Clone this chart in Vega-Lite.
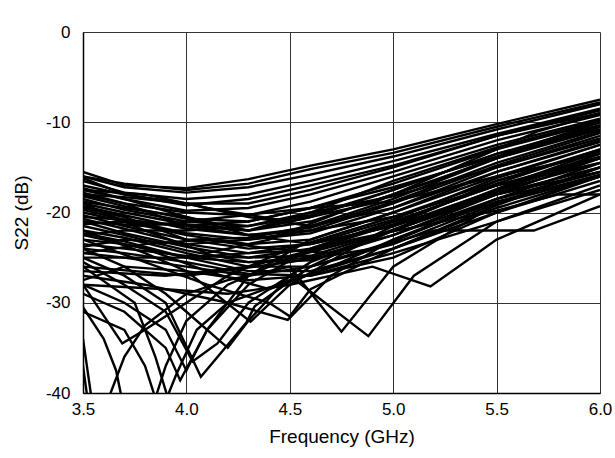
{
"$schema":"https://vega.github.io/schema/vega-lite/v6.json",
"width":517,"height":361,
"autosize":{"type":"none"},
"padding":{"left":83,"top":32,"right":15,"bottom":65},
"background":"white",
"config":{"view":{"stroke":null},"font":"Liberation Sans"},
"data":{"values":[
{"c":1,"f":3.5,"v":-15.5},{"c":1,"f":3.7,"v":-17},{"c":1,"f":4.0,"v":-17.3},{"c":1,"f":4.3,"v":-16.3},{"c":1,"f":4.6,"v":-14.8},{"c":1,"f":5.0,"v":-13},{"c":1,"f":5.5,"v":-10.2},{"c":1,"f":6.0,"v":-7.5},
{"c":2,"f":3.5,"v":-16},{"c":2,"f":3.7,"v":-17.2},{"c":2,"f":4.0,"v":-17.8},{"c":2,"f":4.3,"v":-17.2},{"c":2,"f":4.6,"v":-15.8},{"c":2,"f":5.0,"v":-13.8},{"c":2,"f":5.5,"v":-10.8},{"c":2,"f":6.0,"v":-8},
{"c":3,"f":3.5,"v":-16.5},{"c":3,"f":3.7,"v":-17.8},{"c":3,"f":4.0,"v":-18.5},{"c":3,"f":4.3,"v":-18},{"c":3,"f":4.6,"v":-16.5},{"c":3,"f":5.0,"v":-14.3},{"c":3,"f":5.5,"v":-11.3},{"c":3,"f":6.0,"v":-8.5},
{"c":4,"f":3.5,"v":-17},{"c":4,"f":3.7,"v":-18},{"c":4,"f":4.0,"v":-19},{"c":4,"f":4.3,"v":-19},{"c":4,"f":4.6,"v":-17.5},{"c":4,"f":5.0,"v":-15},{"c":4,"f":5.5,"v":-11.5},{"c":4,"f":6.0,"v":-9},
{"c":5,"f":3.5,"v":-17.3},{"c":5,"f":3.7,"v":-18.5},{"c":5,"f":4.0,"v":-19.8},{"c":5,"f":4.3,"v":-19.5},{"c":5,"f":4.6,"v":-18},{"c":5,"f":5.0,"v":-15.5},{"c":5,"f":5.5,"v":-12},{"c":5,"f":6.0,"v":-9.2},
{"c":6,"f":3.5,"v":-17.8},{"c":6,"f":3.7,"v":-19},{"c":6,"f":4.0,"v":-20},{"c":6,"f":4.3,"v":-20.3},{"c":6,"f":4.6,"v":-18.8},{"c":6,"f":5.0,"v":-16},{"c":6,"f":5.5,"v":-12.5},{"c":6,"f":6.0,"v":-9.6},
{"c":7,"f":3.5,"v":-18.2},{"c":7,"f":3.7,"v":-19.3},{"c":7,"f":4.0,"v":-20.7},{"c":7,"f":4.3,"v":-21},{"c":7,"f":4.6,"v":-19.5},{"c":7,"f":5.0,"v":-16.8},{"c":7,"f":5.5,"v":-13},{"c":7,"f":6.0,"v":-10},
{"c":8,"f":3.5,"v":-18.5},{"c":8,"f":3.7,"v":-19.7},{"c":8,"f":4.0,"v":-21},{"c":8,"f":4.3,"v":-21.5},{"c":8,"f":4.6,"v":-20.3},{"c":8,"f":5.0,"v":-17.5},{"c":8,"f":5.5,"v":-13.5},{"c":8,"f":6.0,"v":-10.3},
{"c":9,"f":3.5,"v":-19},{"c":9,"f":3.7,"v":-20},{"c":9,"f":4.0,"v":-21.3},{"c":9,"f":4.3,"v":-22},{"c":9,"f":4.6,"v":-21},{"c":9,"f":5.0,"v":-18},{"c":9,"f":5.5,"v":-14},{"c":9,"f":6.0,"v":-10.8},
{"c":10,"f":3.5,"v":-19.3},{"c":10,"f":3.7,"v":-20.3},{"c":10,"f":4.0,"v":-21.8},{"c":10,"f":4.3,"v":-22.5},{"c":10,"f":4.6,"v":-21.7},{"c":10,"f":5.0,"v":-18.8},{"c":10,"f":5.5,"v":-14.5},{"c":10,"f":6.0,"v":-11},
{"c":11,"f":3.5,"v":-19.7},{"c":11,"f":3.7,"v":-20.8},{"c":11,"f":4.0,"v":-22.3},{"c":11,"f":4.3,"v":-23},{"c":11,"f":4.6,"v":-22.3},{"c":11,"f":5.0,"v":-19.5},{"c":11,"f":5.5,"v":-15},{"c":11,"f":6.0,"v":-11.5},
{"c":12,"f":3.5,"v":-20},{"c":12,"f":3.7,"v":-21},{"c":12,"f":4.0,"v":-22.5},{"c":12,"f":4.3,"v":-23.5},{"c":12,"f":4.6,"v":-23},{"c":12,"f":5.0,"v":-20},{"c":12,"f":5.5,"v":-15.5},{"c":12,"f":6.0,"v":-12},
{"c":13,"f":3.5,"v":-20.3},{"c":13,"f":3.7,"v":-21.5},{"c":13,"f":4.0,"v":-23},{"c":13,"f":4.3,"v":-24},{"c":13,"f":4.6,"v":-23.5},{"c":13,"f":5.0,"v":-20.8},{"c":13,"f":5.5,"v":-16.2},{"c":13,"f":6.0,"v":-12.5},
{"c":14,"f":3.5,"v":-20.7},{"c":14,"f":3.7,"v":-21.8},{"c":14,"f":4.0,"v":-23.5},{"c":14,"f":4.3,"v":-24.5},{"c":14,"f":4.6,"v":-24.2},{"c":14,"f":5.0,"v":-21.3},{"c":14,"f":5.5,"v":-16.8},{"c":14,"f":6.0,"v":-13},
{"c":15,"f":3.5,"v":-21},{"c":15,"f":3.7,"v":-22.3},{"c":15,"f":4.0,"v":-23.8},{"c":15,"f":4.3,"v":-25},{"c":15,"f":4.6,"v":-24.8},{"c":15,"f":5.0,"v":-22},{"c":15,"f":5.5,"v":-17.5},{"c":15,"f":6.0,"v":-13.5},
{"c":16,"f":3.5,"v":-21.5},{"c":16,"f":3.7,"v":-22.5},{"c":16,"f":4.0,"v":-24.2},{"c":16,"f":4.3,"v":-25.5},{"c":16,"f":4.6,"v":-25.3},{"c":16,"f":5.0,"v":-22.5},{"c":16,"f":5.5,"v":-18},{"c":16,"f":6.0,"v":-14},
{"c":17,"f":3.5,"v":-22},{"c":17,"f":3.7,"v":-22.8},{"c":17,"f":4.0,"v":-24.5},{"c":17,"f":4.3,"v":-26},{"c":17,"f":4.6,"v":-26},{"c":17,"f":5.0,"v":-23.2},{"c":17,"f":5.5,"v":-18.5},{"c":17,"f":6.0,"v":-14.5},
{"c":18,"f":3.5,"v":-22.3},{"c":18,"f":3.7,"v":-23.2},{"c":18,"f":4.0,"v":-25},{"c":18,"f":4.3,"v":-26.5},{"c":18,"f":4.6,"v":-26.5},{"c":18,"f":5.0,"v":-24},{"c":18,"f":5.5,"v":-19.2},{"c":18,"f":6.0,"v":-15},
{"c":19,"f":3.5,"v":-23},{"c":19,"f":3.7,"v":-23.5},{"c":19,"f":4.0,"v":-25},{"c":19,"f":4.3,"v":-25.5},{"c":19,"f":4.6,"v":-25},{"c":19,"f":5.0,"v":-22.5},{"c":19,"f":5.5,"v":-18.5},{"c":19,"f":6.0,"v":-15.5},
{"c":20,"f":3.5,"v":-23.5},{"c":20,"f":3.7,"v":-24},{"c":20,"f":4.0,"v":-24.8},{"c":20,"f":4.3,"v":-25},{"c":20,"f":4.6,"v":-24},{"c":20,"f":5.0,"v":-21},{"c":20,"f":5.5,"v":-17},{"c":20,"f":6.0,"v":-13.8},
{"c":21,"f":3.5,"v":-24},{"c":21,"f":3.7,"v":-24.5},{"c":21,"f":4.0,"v":-25.5},{"c":21,"f":4.3,"v":-26.8},{"c":21,"f":4.6,"v":-27},{"c":21,"f":5.0,"v":-25},{"c":21,"f":5.5,"v":-20},{"c":21,"f":6.0,"v":-16},
{"c":22,"f":3.5,"v":-16.2},{"c":22,"f":3.7,"v":-18},{"c":22,"f":4.0,"v":-19.2},{"c":22,"f":4.3,"v":-18.5},{"c":22,"f":4.6,"v":-17},{"c":22,"f":5.0,"v":-14.8},{"c":22,"f":5.5,"v":-11.5},{"c":22,"f":6.0,"v":-8.7},
{"c":23,"f":3.5,"v":-18},{"c":23,"f":3.7,"v":-18.3},{"c":23,"f":4.0,"v":-19},{"c":23,"f":4.3,"v":-20.5},{"c":23,"f":4.6,"v":-21.5},{"c":23,"f":5.0,"v":-19.5},{"c":23,"f":5.5,"v":-15.5},{"c":23,"f":6.0,"v":-12.2},
{"c":24,"f":3.5,"v":-21.3},{"c":24,"f":3.7,"v":-21},{"c":24,"f":4.0,"v":-21.5},{"c":24,"f":4.3,"v":-21},{"c":24,"f":4.6,"v":-19.5},{"c":24,"f":5.0,"v":-17.2},{"c":24,"f":5.5,"v":-13.8},{"c":24,"f":6.0,"v":-10.5},
{"c":25,"f":3.5,"v":-19.5},{"c":25,"f":3.7,"v":-20.5},{"c":25,"f":4.0,"v":-23},{"c":25,"f":4.3,"v":-22.8},{"c":25,"f":4.6,"v":-21.5},{"c":25,"f":5.0,"v":-18.5},{"c":25,"f":5.5,"v":-14},{"c":25,"f":6.0,"v":-10.5},
{"c":26,"f":3.5,"v":-22.5},{"c":26,"f":3.7,"v":-22},{"c":26,"f":4.0,"v":-22},{"c":26,"f":4.3,"v":-21.5},{"c":26,"f":4.6,"v":-20},{"c":26,"f":5.0,"v":-18.2},{"c":26,"f":5.5,"v":-15},{"c":26,"f":6.0,"v":-11.8},
{"c":27,"f":3.5,"v":-18.8},{"c":27,"f":3.7,"v":-19.5},{"c":27,"f":4.0,"v":-20.5},{"c":27,"f":4.3,"v":-22.5},{"c":27,"f":4.6,"v":-23.5},{"c":27,"f":5.0,"v":-21.5},{"c":27,"f":5.5,"v":-16.5},{"c":27,"f":6.0,"v":-13},
{"c":28,"f":3.5,"v":-20.5},{"c":28,"f":3.7,"v":-20.8},{"c":28,"f":4.0,"v":-21.5},{"c":28,"f":4.3,"v":-22.5},{"c":28,"f":4.6,"v":-22},{"c":28,"f":5.0,"v":-19},{"c":28,"f":5.5,"v":-14.8},{"c":28,"f":6.0,"v":-11.2},
{"c":29,"f":3.5,"v":-17.5},{"c":29,"f":3.7,"v":-18.5},{"c":29,"f":4.0,"v":-20.5},{"c":29,"f":4.3,"v":-22},{"c":29,"f":4.6,"v":-20.5},{"c":29,"f":5.0,"v":-17.5},{"c":29,"f":5.5,"v":-13.5},{"c":29,"f":6.0,"v":-10.8},
{"c":30,"f":3.5,"v":-23.8},{"c":30,"f":3.7,"v":-23},{"c":30,"f":4.0,"v":-23.5},{"c":30,"f":4.3,"v":-23},{"c":30,"f":4.6,"v":-22},{"c":30,"f":5.0,"v":-20.5},{"c":30,"f":5.5,"v":-16.5},{"c":30,"f":6.0,"v":-13.2},
{"c":31,"f":3.5,"v":-24.5},{"c":31,"f":3.7,"v":-25},{"c":31,"f":4.0,"v":-26},{"c":31,"f":4.3,"v":-27},{"c":31,"f":4.6,"v":-26},{"c":31,"f":5.0,"v":-23.5},{"c":31,"f":5.5,"v":-19},{"c":31,"f":6.0,"v":-16},
{"c":32,"f":3.5,"v":-25},{"c":32,"f":3.7,"v":-25},{"c":32,"f":4.0,"v":-25},{"c":32,"f":4.3,"v":-24.5},{"c":32,"f":4.6,"v":-23.5},{"c":32,"f":5.0,"v":-21.5},{"c":32,"f":5.5,"v":-18},{"c":32,"f":6.0,"v":-15},
{"c":33,"f":3.5,"v":-16},{"c":33,"f":3.7,"v":-16.8},{"c":33,"f":4.0,"v":-17.5},{"c":33,"f":4.3,"v":-16.8},{"c":33,"f":4.6,"v":-15.2},{"c":33,"f":5.0,"v":-13.4},{"c":33,"f":5.5,"v":-10.5},{"c":33,"f":6.0,"v":-7.8},
{"c":34,"f":3.5,"v":-18},{"c":34,"f":3.7,"v":-19},{"c":34,"f":4.0,"v":-21.5},{"c":34,"f":4.3,"v":-22},{"c":34,"f":4.6,"v":-20},{"c":34,"f":5.0,"v":-16.5},{"c":34,"f":5.5,"v":-12.8},{"c":34,"f":6.0,"v":-9.8},
{"c":41,"f":3.5,"v":-28},{"c":41,"f":3.7,"v":-30},{"c":41,"f":3.9,"v":-33},{"c":41,"f":4.0,"v":-37.5},{"c":41,"f":4.1,"v":-33},{"c":41,"f":4.3,"v":-27},{"c":41,"f":4.6,"v":-23},{"c":41,"f":5.0,"v":-20},{"c":41,"f":5.5,"v":-16},{"c":41,"f":6.0,"v":-12.5},
{"c":42,"f":3.5,"v":-25},{"c":42,"f":3.7,"v":-27},{"c":42,"f":3.9,"v":-30},{"c":42,"f":4.07,"v":-38.2},{"c":42,"f":4.29,"v":-32.2},{"c":42,"f":4.33,"v":-30.4},{"c":42,"f":4.6,"v":-26},{"c":42,"f":5.0,"v":-21.5},{"c":42,"f":5.5,"v":-17.5},{"c":42,"f":6.0,"v":-14},
{"c":43,"f":3.5,"v":-28},{"c":43,"f":3.69,"v":-34.5},{"c":43,"f":3.8,"v":-33},{"c":43,"f":4.0,"v":-30},{"c":43,"f":4.2,"v":-27},{"c":43,"f":4.5,"v":-24},{"c":43,"f":5.0,"v":-20.5},{"c":43,"f":5.5,"v":-17},{"c":43,"f":6.0,"v":-14.5},
{"c":44,"f":3.5,"v":-30.5},{"c":44,"f":3.6,"v":-34},{"c":44,"f":3.66,"v":-37.5},{"c":44,"f":3.7,"v":-42},
{"c":45,"f":3.5,"v":-34},{"c":45,"f":3.55,"v":-42},
{"c":46,"f":3.5,"v":-37},{"c":46,"f":3.53,"v":-42},
{"c":47,"f":3.6,"v":-42},{"c":47,"f":3.7,"v":-36},{"c":47,"f":3.8,"v":-32.5},{"c":47,"f":4.0,"v":-29},{"c":47,"f":4.2,"v":-27.5},{"c":47,"f":4.5,"v":-26},{"c":47,"f":4.75,"v":-33.2},{"c":47,"f":5.0,"v":-26},{"c":47,"f":5.5,"v":-19},{"c":47,"f":6.0,"v":-15},
{"c":48,"f":3.5,"v":-24},{"c":48,"f":3.7,"v":-26},{"c":48,"f":3.9,"v":-29},{"c":48,"f":4.0,"v":-31},{"c":48,"f":4.2,"v":-35},{"c":48,"f":4.3,"v":-32},{"c":48,"f":4.5,"v":-27},{"c":48,"f":4.88,"v":-33.7},{"c":48,"f":5.1,"v":-27},{"c":48,"f":5.5,"v":-21},{"c":48,"f":6.0,"v":-17.5},
{"c":49,"f":3.5,"v":-26},{"c":49,"f":3.75,"v":-30},{"c":49,"f":3.85,"v":-36},{"c":49,"f":3.93,"v":-42},
{"c":50,"f":3.83,"v":-42},{"c":50,"f":3.9,"v":-37},{"c":50,"f":4.0,"v":-32},{"c":50,"f":4.2,"v":-28},{"c":50,"f":4.5,"v":-25},{"c":50,"f":5.0,"v":-22},{"c":50,"f":5.5,"v":-18},{"c":50,"f":6.0,"v":-15.5},
{"c":51,"f":3.5,"v":-29},{"c":51,"f":3.7,"v":-31},{"c":51,"f":3.9,"v":-35},{"c":51,"f":3.97,"v":-38.6},{"c":51,"f":4.1,"v":-33},{"c":51,"f":4.3,"v":-28},{"c":51,"f":4.6,"v":-24},{"c":51,"f":5.0,"v":-21},{"c":51,"f":5.5,"v":-17},{"c":51,"f":6.0,"v":-14},
{"c":52,"f":3.5,"v":-27},{"c":52,"f":3.8,"v":-28},{"c":52,"f":4.0,"v":-29},{"c":52,"f":4.2,"v":-30},{"c":52,"f":4.49,"v":-31.9},{"c":52,"f":4.7,"v":-27},{"c":52,"f":5.0,"v":-23},{"c":52,"f":5.5,"v":-18.5},{"c":52,"f":6.0,"v":-15.5},
{"c":53,"f":3.5,"v":-22},{"c":53,"f":3.8,"v":-24.5},{"c":53,"f":4.0,"v":-26.5},{"c":53,"f":4.31,"v":-32.1},{"c":53,"f":4.5,"v":-28},{"c":53,"f":4.8,"v":-24},{"c":53,"f":5.2,"v":-20},{"c":53,"f":5.6,"v":-17},{"c":53,"f":6.0,"v":-14.5},
{"c":54,"f":3.5,"v":-23},{"c":54,"f":3.8,"v":-25.5},{"c":54,"f":4.1,"v":-28},{"c":54,"f":4.4,"v":-30},{"c":54,"f":4.5,"v":-31.5},{"c":54,"f":4.6,"v":-28.5},{"c":54,"f":5.0,"v":-24},{"c":54,"f":5.5,"v":-19.5},{"c":54,"f":6.0,"v":-16},
{"c":55,"f":3.5,"v":-28},{"c":55,"f":3.9,"v":-28.5},{"c":55,"f":4.2,"v":-29},{"c":55,"f":4.5,"v":-28},{"c":55,"f":4.9,"v":-26},{"c":55,"f":5.18,"v":-28.2},{"c":55,"f":5.5,"v":-23},{"c":55,"f":6.0,"v":-18},
{"c":56,"f":3.5,"v":-26},{"c":56,"f":4.0,"v":-27},{"c":56,"f":4.5,"v":-25.5},{"c":56,"f":4.9,"v":-24},{"c":56,"f":5.2,"v":-22},{"c":56,"f":5.68,"v":-22},{"c":56,"f":6.0,"v":-19.3},
{"c":57,"f":3.5,"v":-26.5},{"c":57,"f":3.9,"v":-27},{"c":57,"f":4.3,"v":-26},{"c":57,"f":4.8,"v":-23},{"c":57,"f":5.5,"v":-19.8},{"c":57,"f":5.8,"v":-18},{"c":57,"f":6.0,"v":-18},
{"c":58,"f":3.88,"v":-42},{"c":58,"f":3.95,"v":-38},{"c":58,"f":4.05,"v":-33},{"c":58,"f":4.2,"v":-30},{"c":58,"f":4.5,"v":-27.5},{"c":58,"f":5.0,"v":-24},{"c":58,"f":5.5,"v":-20},{"c":58,"f":6.0,"v":-16.5},
{"c":59,"f":3.5,"v":-31},{"c":59,"f":3.7,"v":-33},{"c":59,"f":3.8,"v":-37},{"c":59,"f":3.87,"v":-42},
{"c":60,"f":3.5,"v":-25.5},{"c":60,"f":3.7,"v":-28},{"c":60,"f":3.9,"v":-31},{"c":60,"f":4.03,"v":-36.5},{"c":60,"f":4.15,"v":-34.5},{"c":60,"f":4.3,"v":-30},{"c":60,"f":4.6,"v":-25.5},{"c":60,"f":5.0,"v":-22},{"c":60,"f":5.5,"v":-18},{"c":60,"f":6.0,"v":-15},
{"c":61,"f":3.5,"v":-22.5},{"c":61,"f":3.8,"v":-24},{"c":61,"f":4.1,"v":-26.5},{"c":61,"f":4.4,"v":-28.5},{"c":61,"f":4.7,"v":-26},{"c":61,"f":5.0,"v":-23},{"c":61,"f":5.5,"v":-18.8},{"c":61,"f":6.0,"v":-15.8},
{"c":62,"f":3.5,"v":-19},{"c":62,"f":3.8,"v":-22},{"c":62,"f":4.1,"v":-24.5},{"c":62,"f":4.4,"v":-23},{"c":62,"f":4.8,"v":-19.5},{"c":62,"f":5.2,"v":-16.5},{"c":62,"f":5.6,"v":-13},{"c":62,"f":6.0,"v":-10},
{"c":63,"f":3.5,"v":-21},{"c":63,"f":3.8,"v":-21.5},{"c":63,"f":4.2,"v":-20.5},{"c":63,"f":4.6,"v":-19.5},{"c":63,"f":5.0,"v":-18.8},{"c":63,"f":5.5,"v":-16},{"c":63,"f":6.0,"v":-13.5},
{"c":64,"f":3.5,"v":-27.5},{"c":64,"f":3.7,"v":-26},{"c":64,"f":4.0,"v":-26.5},{"c":64,"f":4.3,"v":-27.5},{"c":64,"f":4.6,"v":-27},{"c":64,"f":5.0,"v":-24.5},{"c":64,"f":5.5,"v":-21},{"c":64,"f":6.0,"v":-17},
{"c":65,"f":3.5,"v":-17.5},{"c":65,"f":3.8,"v":-18},{"c":65,"f":4.1,"v":-19.5},{"c":65,"f":4.5,"v":-21},{"c":65,"f":4.9,"v":-19},{"c":65,"f":5.3,"v":-15},{"c":65,"f":5.7,"v":-11},{"c":65,"f":6.0,"v":-9},
{"c":66,"f":3.5,"v":-24.5},{"c":66,"f":3.8,"v":-23.5},{"c":66,"f":4.1,"v":-23},{"c":66,"f":4.4,"v":-24},{"c":66,"f":4.7,"v":-24.5},{"c":66,"f":5.1,"v":-21},{"c":66,"f":5.6,"v":-16.5},{"c":66,"f":6.0,"v":-13.2}
]},
"mark":{"type":"line","color":"black","strokeWidth":2.4,"clip":true,"strokeJoin":"miter"},
"encoding":{
"x":{"field":"f","type":"quantitative","scale":{"domain":[3.5,6.0],"nice":false,"zero":false},
"axis":{"title":"Frequency (GHz)","values":[3.5,4.0,4.5,5.0,5.5,6.0],"format":".1f","grid":true,"gridColor":"#333","gridWidth":1,"domainColor":"black","domainWidth":1.5,"ticks":false,"labelPadding":8,"labelFontSize":17,"labelColor":"black","titleFontSize":19,"titleFontWeight":"normal","titleColor":"black","titlePadding":10,"labelFlush":false}},
"y":{"field":"v","type":"quantitative","scale":{"domain":[-40,0],"nice":false,"zero":false},
"axis":{"title":"S22 (dB)","values":[-40,-30,-20,-10,0],"labelExpr":"'' + datum.value","grid":true,"gridColor":"#333","gridWidth":1,"domainColor":"black","domainWidth":1.5,"ticks":false,"labelPadding":13,"labelFontSize":17,"labelColor":"black","titleFontSize":19,"titleFontWeight":"normal","titleColor":"black","titlePadding":14,"labelFlush":false}},
"detail":{"field":"c","type":"nominal"}
}
}
